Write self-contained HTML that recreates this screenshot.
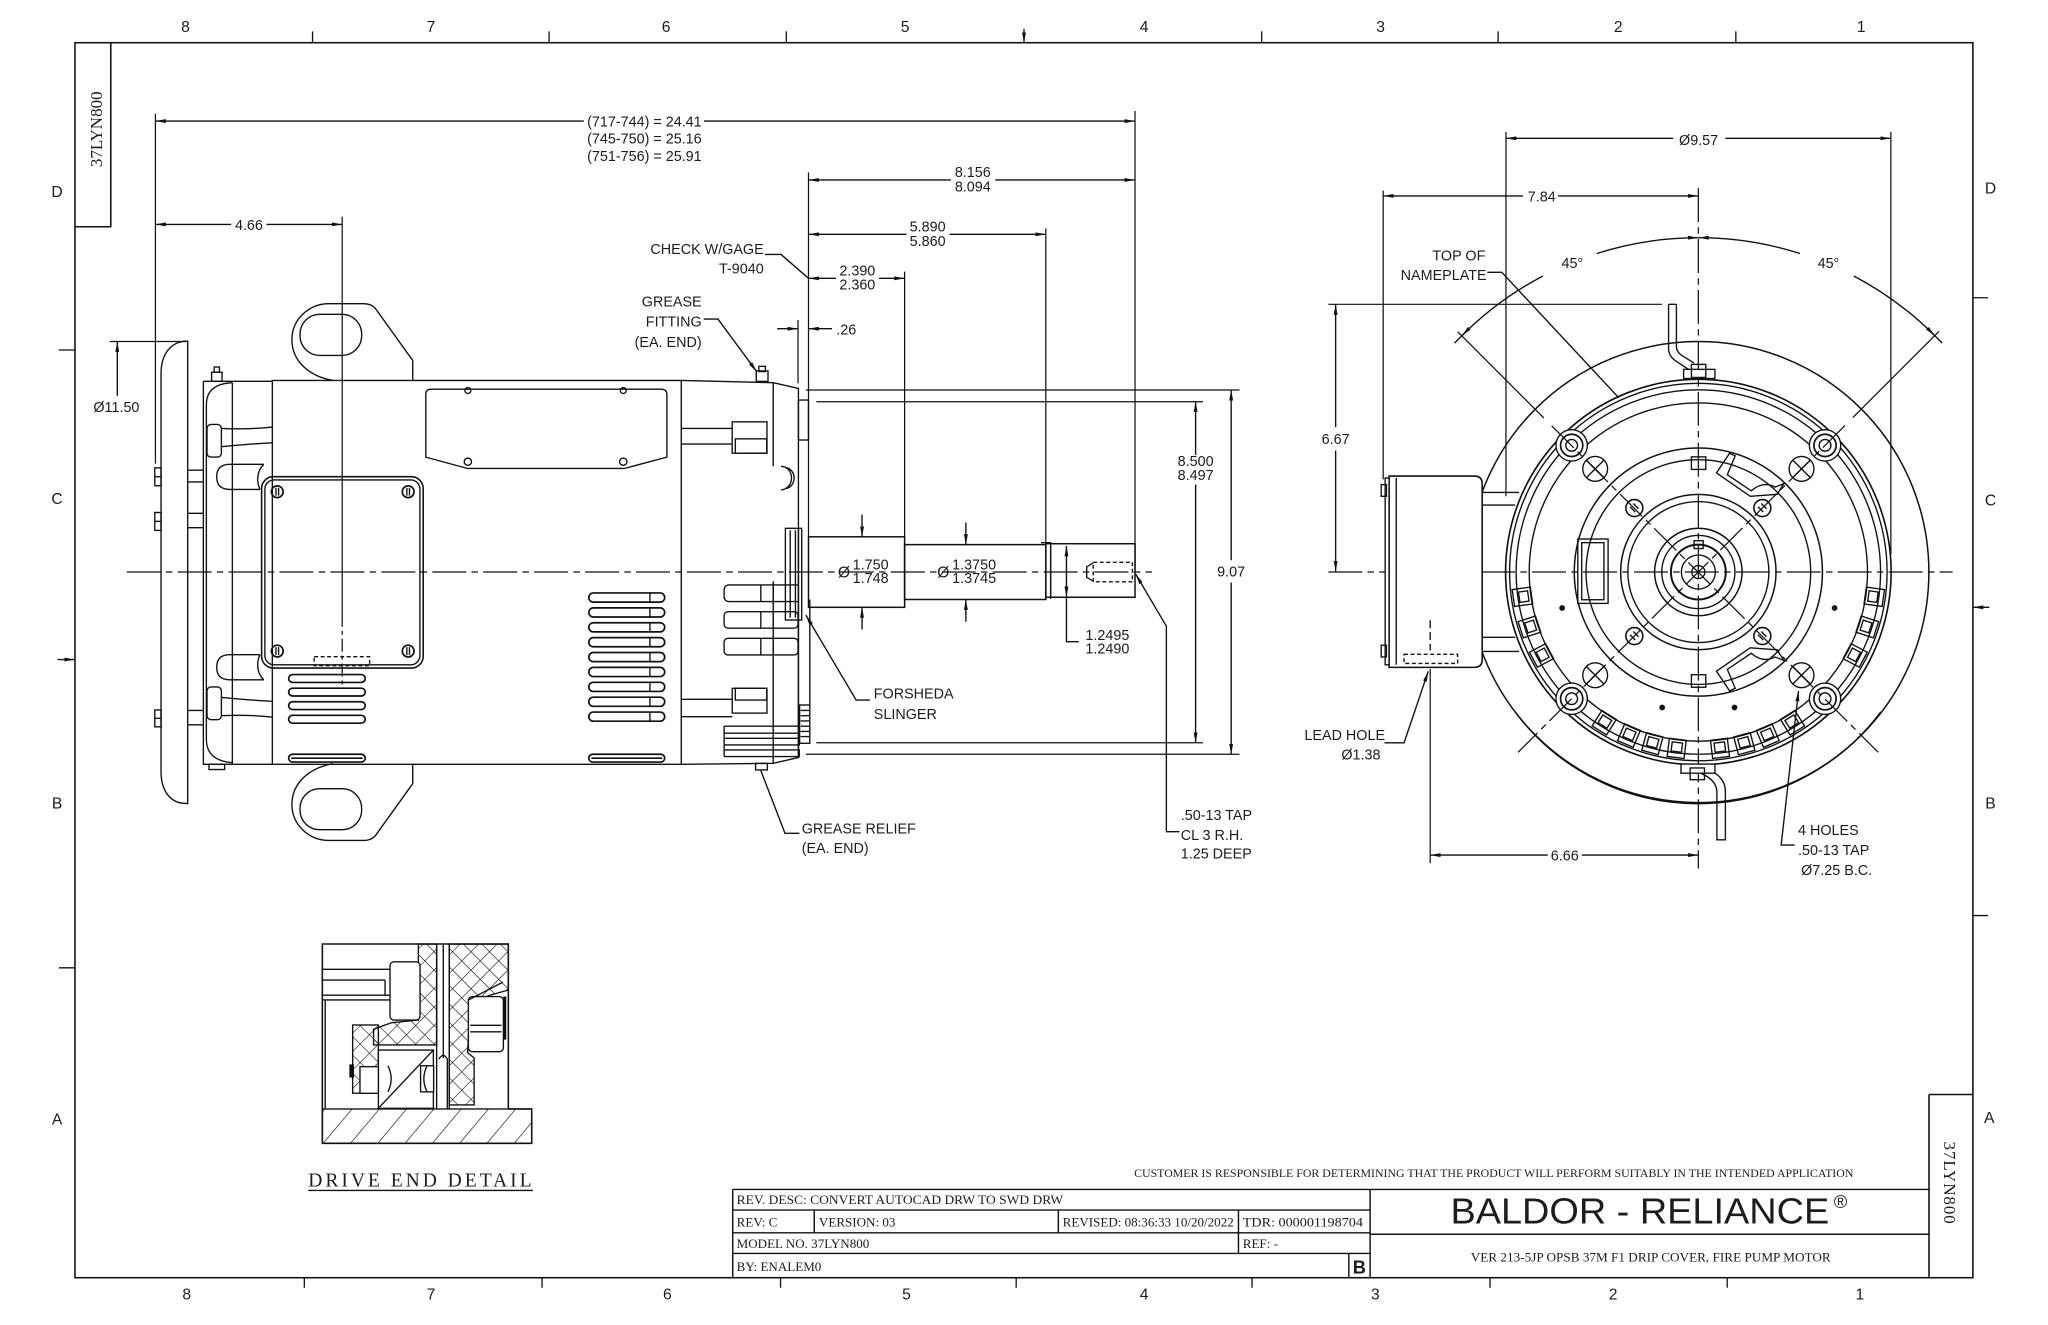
<!DOCTYPE html>
<html><head><meta charset="utf-8">
<style>
html,body{margin:0;padding:0;background:#fff;}
svg{display:block;font-size:11px}
text{font-family:"Liberation Sans",sans-serif;fill:#1c1c1c}
.s{font-family:"Liberation Serif",serif}
.m{text-anchor:middle}
.e{text-anchor:end}
.z{font-size:12px}
</style></head><body>
<svg width="2048" height="1325" viewBox="0 0 1568 1014.5" preserveAspectRatio="none" xmlns="http://www.w3.org/2000/svg">
<defs>
<marker id="ar" viewBox="0 0 10 4" refX="10" refY="2" markerWidth="8" markerHeight="3" markerUnits="userSpaceOnUse" orient="auto-start-reverse" preserveAspectRatio="none"><path d="M0 0L10 2L0 4Z" fill="#111"/></marker>
<pattern id="h1" patternUnits="userSpaceOnUse" width="16" height="16" patternTransform="rotate(40)"><line x1="0" y1="0" x2="0" y2="16" stroke="#111" stroke-width="1"/></pattern>
<pattern id="h2" patternUnits="userSpaceOnUse" width="10" height="10" patternTransform="rotate(45)"><path d="M0 0V10M0 0H10" stroke="#111" stroke-width="0.9" fill="none"/></pattern>
</defs>
<rect x="0" y="0" width="1568" height="1014.5" fill="#fff"/>

<!-- ============ FRAME ============ -->
<g stroke="#111" stroke-width="1.2" fill="none">
<rect x="57.4" y="32.7" width="1453.1" height="945.6"/>
<path d="M84.8 32.7V173.6H57.4"/>
<path d="M1476.9 838V978.3M1476.9 838H1510.5"/>
</g>
<g stroke="#111" stroke-width="1" fill="none">
<path d="M239.3 24V32.7M420.4 24V32.7M602 24V32.7M966 24V32.7M1147 24V32.7M1329 24V32.7"/>
<line x1="784" y1="22" x2="784" y2="32.7" marker-end="url(#ar)"/>
<path d="M233 978.3V986M415 978.3V986M597.6 978.3V986M778 978.3V986M958.6 978.3V986M1140.8 978.3V986M1322.4 978.3V986"/>
<path d="M45 268H57.4M45 741H57.4"/>
<line x1="44" y1="505" x2="57.4" y2="505" marker-end="url(#ar)"/>
<path d="M1510.5 228H1522M1510.5 701H1522"/>
<line x1="1523" y1="465" x2="1510.5" y2="465" marker-end="url(#ar)"/>
</g>
<g>
<text class="m z" x="142" y="24.5">8</text><text class="m z" x="330" y="24.5">7</text><text class="m z" x="510" y="24.5">6</text><text class="m z" x="693" y="24.5">5</text><text class="m z" x="876" y="24.5">4</text><text class="m z" x="1057" y="24.5">3</text><text class="m z" x="1239" y="24.5">2</text><text class="m z" x="1425" y="24.5">1</text>
<text class="m z" x="143" y="995">8</text><text class="m z" x="330" y="995">7</text><text class="m z" x="511" y="995">6</text><text class="m z" x="694" y="995">5</text><text class="m z" x="876" y="995">4</text><text class="m z" x="1053" y="995">3</text><text class="m z" x="1235" y="995">2</text><text class="m z" x="1424" y="995">1</text>
<text class="m z" x="43.7" y="151">D</text><text class="m z" x="43.7" y="386">C</text><text class="m z" x="43.7" y="619">B</text><text class="m z" x="43.7" y="861">A</text>
<text class="m z" x="1524" y="148">D</text><text class="m z" x="1524" y="387">C</text><text class="m z" x="1524" y="619">B</text><text class="m z" x="1523" y="860">A</text>
</g>
<text class="s m" x="0" y="0" font-size="13" textLength="58" transform="translate(78 99) rotate(-90)">37LYN800</text>
<text class="s m" x="0" y="0" font-size="13" textLength="63" transform="translate(1488.5 905.5) rotate(90)">37LYN800</text>

<!-- ============ TITLE BLOCK ============ -->
<g stroke="#111" stroke-width="1.1" fill="none">
<path d="M561 910.7H1476.9M561 910.7V978.3M1049 910.7V978.3M1049 945H1476.9"/>
<path d="M561 926.5H1049M561 943.9H1049M561 959.7H1049"/>
<path d="M623.4 926.5V943.9M810.3 926.5V943.9M948.2 926.5V959.7M1032.7 959.7V978.3"/>
</g>
<text class="s" x="868.3" y="901" font-size="8.6" textLength="550.7" lengthAdjust="spacingAndGlyphs">CUSTOMER IS RESPONSIBLE FOR DETERMINING THAT THE PRODUCT WILL PERFORM SUITABLY IN THE INTENDED APPLICATION</text>
<text class="s" x="564" y="921.8" font-size="10" textLength="250" lengthAdjust="spacingAndGlyphs">REV. DESC: CONVERT AUTOCAD DRW TO SWD DRW</text>
<text class="s" x="564" y="939" font-size="10">REV:  C</text>
<text class="s" x="627" y="939" font-size="10">VERSION:  03</text>
<text class="s" x="813.6" y="939" font-size="10" textLength="131" lengthAdjust="spacingAndGlyphs">REVISED: 08:36:33 10/20/2022</text>
<text class="s" x="951.5" y="939" font-size="10" textLength="92" lengthAdjust="spacingAndGlyphs">TDR: 000001198704</text>
<text class="s" x="564" y="955.5" font-size="10">MODEL NO.  37LYN800</text>
<text class="s" x="951.5" y="955.5" font-size="10">REF:  -</text>
<text class="s" x="564" y="973" font-size="10">BY: ENALEM0</text>
<text class="m" x="1040.8" y="975" font-size="14" font-weight="bold">B</text>
<text x="1110.5" y="936.7" font-size="28" textLength="290" lengthAdjust="spacingAndGlyphs">BALDOR - RELIANCE</text>
<text x="1404" y="925" font-size="14">®</text>
<text class="s" x="1126" y="966" font-size="9.7" textLength="275.6" lengthAdjust="spacingAndGlyphs">VER 213-5JP OPSB 37M F1 DRIP COVER, FIRE PUMP MOTOR</text>

<!-- ============ SIDE VIEW ============ -->
<g stroke="#111" stroke-width="1.05" fill="none">
<line x1="97" y1="438" x2="882" y2="438" stroke-dasharray="26 4 5 4" stroke-width="0.95"/>
<line x1="262" y1="165.9" x2="262" y2="470" stroke-width="0.95"/>
<line x1="262" y1="470" x2="262" y2="525" stroke-dasharray="10 3 3 3" stroke-width="0.95"/>
<path d="M143.7 261.2L140 261.4C130 263 123.3 272 123.3 286L123.3 591C123.3 605 130 614 140 615L143.7 615.3Z"/>
<rect x="118.5" y="358.2" width="4.8" height="13.7"/><line x1="118.5" y1="365" x2="123.3" y2="365"/>
<rect x="118.5" y="392.4" width="4.8" height="13.7"/><line x1="118.5" y1="399.2" x2="123.3" y2="399.2"/>
<rect x="118.5" y="543.6" width="4.8" height="12.9"/><line x1="118.5" y1="550" x2="123.3" y2="550"/>
<path d="M143.7 360H155.7M143.7 369H155.7M143.7 393H155.7M143.7 404H155.7M143.7 544H155.7M143.7 555H155.7"/>
<path d="M155.7 292H208.5M155.7 292V585.2H208.5"/>
<path d="M158 310C158 298 166 293.5 178 293M158 566C158 578 166 583 178 584M158 310V566M177.9 293V585"/>
<rect x="162" y="285" width="8" height="7"/><rect x="164" y="281" width="4" height="4"/>
<rect x="160" y="585.2" width="12" height="4"/>
<g id="rib">
<rect x="158.5" y="325" width="11" height="25" rx="3"/>
<path d="M169.5 328Q190 329 208.5 327M169.5 342Q190 340 208.5 339"/>
<path d="M202 355.5L176 355.5C168 355.5 165.9 360 165.9 365C165.9 370 168 374.7 176 374.7L199 374.7M202 355.5C197 360 196 368 199 374.7"/>
</g>
<use href="#rib" transform="translate(0 876) scale(1 -1)"/>
<rect x="208.5" y="291.3" width="313.1" height="293.9"/>
<g id="lug">
<path d="M316 291.3V276L288 237Q285 232.5 278 232.5H252C236 232.5 223.5 245 223.5 260C223.5 276 236 288 255 291.3"/>
<rect x="229.7" y="240.7" width="47.2" height="31.4" rx="15"/>
</g>
<use href="#lug" transform="translate(0 876) scale(1 -1)"/>
<rect x="200.3" y="365" width="123.7" height="146.5" rx="9" stroke-width="1.2"/>
<rect x="202.8" y="367.5" width="118.7" height="141.5" rx="7"/>
<g id="scr"><circle cx="212.3" cy="376.5" r="4.5" stroke-width="1.3"/><path d="M211.3 373.5V379.5M213.3 373.5V379.5"/></g>
<use href="#scr" transform="translate(100.2 0)"/><use href="#scr" transform="translate(0 122)"/><use href="#scr" transform="translate(100.2 122)"/>
<rect x="240.5" y="502.8" width="42.5" height="6.9" stroke-dasharray="3 2"/>
<path d="M326 302Q326 298 330 298H506Q510.6 298 510.6 302V350L478 358.7H358L326 350Z"/>
<circle cx="358.2" cy="299" r="2.3"/><circle cx="477.2" cy="299" r="2.3"/>
<circle cx="358.2" cy="353.5" r="2.8"/><circle cx="477.2" cy="353.5" r="2.8"/>
<g stroke-width="1.3">
<rect x="450.8" y="454" width="58.1" height="7" rx="3.5"/><rect x="450.8" y="465.4" width="58.1" height="7" rx="3.5"/><rect x="450.8" y="476.8" width="58.1" height="7" rx="3.5"/><rect x="450.8" y="488.2" width="58.1" height="7" rx="3.5"/><rect x="450.8" y="499.6" width="58.1" height="7" rx="3.5"/><rect x="450.8" y="511" width="58.1" height="7" rx="3.5"/><rect x="450.8" y="522.4" width="58.1" height="7" rx="3.5"/><rect x="450.8" y="533.8" width="58.1" height="7" rx="3.5"/><rect x="450.8" y="545.2" width="58.1" height="7" rx="3.5"/>
<rect x="221" y="516.5" width="58.6" height="6" rx="3"/><rect x="221" y="526.9" width="58.6" height="6" rx="3"/><rect x="221" y="537.3" width="58.6" height="6" rx="3"/><rect x="221" y="547.7" width="58.6" height="6" rx="3"/>
<rect x="221" y="577.5" width="58.6" height="6" rx="3"/><line x1="223" y1="580.5" x2="277.6" y2="580.5"/>
<rect x="450.8" y="577.5" width="58.1" height="6" rx="3"/><line x1="452.8" y1="580.5" x2="507" y2="580.5"/>
</g>
<path d="M497.6 454V461M497.6 465.4V472.4M497.6 476.8V483.8M497.6 488.2V495.2M497.6 499.6V506.6M497.6 511V518M497.6 522.4V529.4M497.6 533.8V540.8M497.6 545.2V552.2"/>
<path d="M521.6 291.3L592 293L611.3 297.4V580L592 584.4L521.6 585.2"/>
<rect x="611.3" y="306.3" width="7.7" height="30.6"/>
<path d="M592 293V357M592 445V584"/>
<path d="M521.6 328H560.6M521.6 340H560.6M521.6 535.4H560.6M521.6 548.7H560.6"/>
<rect x="560.6" y="323" width="26.6" height="24"/><rect x="563" y="336" width="24" height="11"/>
<rect x="560.6" y="527" width="26.6" height="19"/><rect x="563" y="527" width="24" height="9"/>
<path d="M598 357A8 9 0 0 1 598 375M601 358A7 8 0 0 1 601 374"/>
<path d="M611.3 404V580M620 459V541"/>
<path d="M558 447.9H611M554.4 451.5V457C554.4 459 556 460.6 558 460.6H611M554.4 451.5C554.4 449.5 556 447.9 558 447.9"/>
<rect x="554.4" y="468.3" width="56.6" height="12.7" rx="3"/>
<rect x="554.4" y="488.7" width="56.6" height="12.8" rx="3"/>
<path d="M582.5 447.9V460.6M592 447.9V460.6M582.5 468.3V481M592 468.3V481M582.5 488.7V501.5M592 488.7V501.5"/>
<path d="M554.4 556H612L612 561.4H554.4M554.4 565.3H612V570.4H554.4M554.4 574.2H612V579.3H554.4M554.4 556V579.3"/>
<rect x="612.2" y="539.8" width="7.8" height="29.3"/>
<path d="M613 544H619.5M613 548H619.5M613 552H619.5M613 556H619.5M613 560H619.5M613 564H619.5"/>
<rect x="601.3" y="404.5" width="12.5" height="70.2"/><path d="M605 406V473M609 406V473"/>
<rect x="579" y="284" width="9" height="8"/><rect x="581" y="280.5" width="5" height="4"/>
<rect x="578.5" y="584.5" width="9" height="5"/>
<rect x="619" y="411" width="73.6" height="54" stroke-width="1.15"/>
<rect x="692.6" y="417" width="108.1" height="42" stroke-width="1.15"/>
<path d="M797 415.5H804.4V458.5" />
<rect x="800.7" y="416.3" width="68.3" height="41" stroke-width="1.15"/>
<line x1="804.4" y1="416.3" x2="804.4" y2="457.3"/>
<rect x="837" y="430.5" width="30" height="15" stroke-dasharray="3 2"/>
<path d="M837 431L832 434V442L837 445"/>
<line x1="119" y1="87" x2="119" y2="355" stroke-width="0.95"/>
<line x1="869" y1="85" x2="869" y2="437" stroke-width="0.95"/>
<line x1="447" y1="92.7" x2="119" y2="92.7" marker-end="url(#ar)"/>
<line x1="539" y1="92.7" x2="869" y2="92.7" marker-end="url(#ar)"/>
<line x1="177" y1="171.8" x2="119" y2="171.8" marker-end="url(#ar)"/>
<line x1="204" y1="171.8" x2="262" y2="171.8" marker-end="url(#ar)"/>
<line x1="84" y1="261.5" x2="143" y2="261.5" stroke-width="0.95"/>
<line x1="89.8" y1="303" x2="89.8" y2="261.5" marker-end="url(#ar)"/>
<line x1="619" y1="132" x2="619" y2="411" stroke-width="0.95"/>
<line x1="800.7" y1="175" x2="800.7" y2="416" stroke-width="0.95"/>
<line x1="692.6" y1="208" x2="692.6" y2="411" stroke-width="0.95"/>
<line x1="728" y1="137.8" x2="619" y2="137.8" marker-end="url(#ar)"/>
<line x1="762" y1="137.8" x2="869" y2="137.8" marker-end="url(#ar)"/>
<line x1="694" y1="179.4" x2="619" y2="179.4" marker-end="url(#ar)"/>
<line x1="727" y1="179.4" x2="800.7" y2="179.4" marker-end="url(#ar)"/>
<line x1="640" y1="213.1" x2="619" y2="213.1" marker-end="url(#ar)"/>
<line x1="673" y1="213.1" x2="692.6" y2="213.1" marker-end="url(#ar)"/>
<line x1="611" y1="245" x2="611" y2="293.5" stroke-width="0.95"/>
<line x1="595" y1="251.7" x2="611" y2="251.7" marker-end="url(#ar)"/>
<line x1="637" y1="251.7" x2="619" y2="251.7" marker-end="url(#ar)"/>
<path d="M585.6 194.8H598L619 213.1"/>
<path d="M538.8 244.3H549.7L579.4 284.6" marker-end="url(#ar)"/>
<path d="M666 536H655.5L617 471" marker-end="url(#ar)"/>
<path d="M612 638H601L582.5 590"/>
<path d="M903 636.8H893V479.4L869.5 439.6" marker-end="url(#ar)"/>
<line x1="617" y1="298.6" x2="949" y2="298.6" stroke-width="0.95"/>
<line x1="617" y1="577.5" x2="949" y2="577.5" stroke-width="0.95"/>
<line x1="625" y1="307.6" x2="921" y2="307.6" stroke-width="0.95"/>
<line x1="625" y1="568.7" x2="921" y2="568.7" stroke-width="0.95"/>
<line x1="915.4" y1="348.4" x2="915.4" y2="307.6" marker-end="url(#ar)"/>
<line x1="915.4" y1="371" x2="915.4" y2="568.7" marker-end="url(#ar)"/>
<line x1="942.6" y1="429" x2="942.6" y2="298.6" marker-end="url(#ar)"/>
<line x1="942.6" y1="446" x2="942.6" y2="577.5" marker-end="url(#ar)"/>
<line x1="660" y1="394" x2="660" y2="411" marker-end="url(#ar)"/>
<line x1="660" y1="482" x2="660" y2="465" marker-end="url(#ar)"/>
<line x1="739.5" y1="400" x2="739.5" y2="417" marker-end="url(#ar)"/>
<line x1="739.5" y1="476" x2="739.5" y2="459" marker-end="url(#ar)"/>
<line x1="816.5" y1="418" x2="816.5" y2="457" marker-start="url(#ar)" marker-end="url(#ar)"/>
<path d="M816.5 457V491.3H826"/>
</g>
<text x="449.5" y="97">(717-744) = 24.41</text>
<text x="449.5" y="110">(745-750) = 25.16</text>
<text x="449.5" y="123.3">(751-756) = 25.91</text>
<text class="m" x="190.6" y="176">4.66</text>
<text x="71.5" y="315.5">Ø11.50</text>
<text class="m" x="744.8" y="135.5">8.156</text><text class="m" x="744.8" y="146.8">8.094</text>
<text class="m" x="710.2" y="177.2">5.890</text><text class="m" x="710.2" y="188.3">5.860</text>
<text class="m" x="656.4" y="211.1">2.390</text><text class="m" x="656.4" y="221.5">2.360</text>
<text x="640.3" y="256">.26</text>
<text class="e" x="584.7" y="194.5">CHECK W/GAGE</text>
<text class="e" x="584.7" y="209.3">T-9040</text>
<text class="e" x="537.2" y="234.8">GREASE</text>
<text class="e" x="537.2" y="250">FITTING</text>
<text class="e" x="537.2" y="265.5">(EA. END)</text>
<text class="m" x="915.4" y="356.8">8.500</text><text class="m" x="915.4" y="367.5">8.497</text>
<text class="m" x="942.6" y="441.5">9.07</text>
<text x="641.5" y="442" font-size="12">Ø</text>
<text x="652.8" y="436">1.750</text><text x="652.8" y="446.5">1.748</text>
<text x="717.5" y="442" font-size="12">Ø</text>
<text x="729" y="436">1.3750</text><text x="729" y="446.5">1.3745</text>
<text x="831" y="490">1.2495</text><text x="831" y="500.3">1.2490</text>
<text x="669" y="535">FORSHEDA</text><text x="669" y="550.5">SLINGER</text>
<text x="613.8" y="638">GREASE RELIEF</text><text x="613.8" y="653.3">(EA. END)</text>
<text x="904" y="627.8">.50-13 TAP</text><text x="904" y="643">CL 3 R.H.</text><text x="904" y="657.2">1.25 DEEP</text>

<!-- ============ END VIEW ============ -->
<g stroke="#111" stroke-width="1.05" fill="none">
<circle cx="1300.3" cy="438" r="176.5" stroke-width="1.15"/>
<path d="M1160 545A174.5 174.5 0 0 0 1440 545"/>
<circle cx="1300.3" cy="438" r="147.6" stroke-width="1.25"/>
<circle cx="1300.3" cy="438" r="144.5"/>
<circle cx="1300.3" cy="438" r="139.5"/>
<circle cx="1300.3" cy="438" r="129.5"/>
<circle cx="1300.3" cy="438" r="95" stroke-width="1.15"/>
<circle cx="1300.3" cy="438" r="86"/>
<circle cx="1300.3" cy="438" r="59.5" stroke-width="1.15"/>
<circle cx="1300.3" cy="438" r="54"/>
<circle cx="1300.3" cy="438" r="33.5" stroke-width="1.15"/>
<circle cx="1300.3" cy="438" r="28"/>
<circle cx="1300.3" cy="438" r="21" stroke-width="1.5"/>
<circle cx="1300.3" cy="438" r="13"/>
<circle cx="1300.3" cy="438" r="5"/>
<rect x="1297" y="414" width="7" height="6"/>
<rect x="1295" y="349.8" width="11" height="9.6"/>
<rect x="1295" y="516.6" width="11" height="9.6"/>
<g transform="translate(1300.3 438)">
<g transform="rotate(8)"><rect x="129" y="-6.5" width="14" height="13"/><rect x="131.5" y="-4" width="7" height="8"/></g>
<g transform="rotate(18)"><rect x="129" y="-6.5" width="14" height="13"/><rect x="131.5" y="-4" width="7" height="8"/></g>
<g transform="rotate(28)"><rect x="129" y="-6.5" width="14" height="13"/><rect x="131.5" y="-4" width="7" height="8"/></g>
<g transform="rotate(58)"><rect x="129" y="-6.5" width="14" height="13"/><rect x="131.5" y="-4" width="7" height="8"/></g>
<g transform="rotate(67)"><rect x="129" y="-6.5" width="14" height="13"/><rect x="131.5" y="-4" width="7" height="8"/></g>
<g transform="rotate(75)"><rect x="129" y="-6.5" width="14" height="13"/><rect x="131.5" y="-4" width="7" height="8"/></g>
<g transform="rotate(83)"><rect x="129" y="-6.5" width="14" height="13"/><rect x="131.5" y="-4" width="7" height="8"/></g>
<g transform="rotate(97)"><rect x="129" y="-6.5" width="14" height="13"/><rect x="131.5" y="-4" width="7" height="8"/></g>
<g transform="rotate(105)"><rect x="129" y="-6.5" width="14" height="13"/><rect x="131.5" y="-4" width="7" height="8"/></g>
<g transform="rotate(113)"><rect x="129" y="-6.5" width="14" height="13"/><rect x="131.5" y="-4" width="7" height="8"/></g>
<g transform="rotate(122)"><rect x="129" y="-6.5" width="14" height="13"/><rect x="131.5" y="-4" width="7" height="8"/></g>
<g transform="rotate(152)"><rect x="129" y="-6.5" width="14" height="13"/><rect x="131.5" y="-4" width="7" height="8"/></g>
<g transform="rotate(162)"><rect x="129" y="-6.5" width="14" height="13"/><rect x="131.5" y="-4" width="7" height="8"/></g>
<g transform="rotate(172)"><rect x="129" y="-6.5" width="14" height="13"/><rect x="131.5" y="-4" width="7" height="8"/></g>
</g>
<g id="boss"><circle cx="1203.3" cy="341" r="12" fill="#fff"/><circle cx="1203.3" cy="341" r="8.5" stroke-width="1.3"/><circle cx="1203.3" cy="341" r="4.5"/></g>
<use href="#boss" transform="translate(194 0)"/><use href="#boss" transform="translate(0 194)"/><use href="#boss" transform="translate(194 194)"/>
<g id="xh"><circle cx="1221.3" cy="359" r="9.5"/><path d="M1214.6 352.3L1228 365.7M1228 352.3L1214.6 365.7"/></g>
<use href="#xh" transform="translate(158 0)"/><use href="#xh" transform="translate(0 158)"/><use href="#xh" transform="translate(158 158)"/>
<g id="ss"><circle cx="1251.3" cy="389" r="6.5" stroke-width="1.2"/><path d="M1248 388L1252 392M1250.5 385.5L1254.5 389.5"/></g>
<use href="#ss" transform="translate(98 0)"/><use href="#ss" transform="translate(0 98)"/><use href="#ss" transform="translate(98 98)"/>
<g fill="#111" stroke="none"><circle cx="1196" cy="465.5" r="2.2"/><circle cx="1404.6" cy="465.5" r="2.2"/><circle cx="1272.6" cy="541.7" r="2.2"/><circle cx="1328" cy="541.7" r="2.2"/></g>
<rect x="1208" y="412.7" width="23.2" height="49.3"/><rect x="1211" y="415.5" width="17" height="43.7"/>
<g id="clip"><path d="M1314.2 362.1L1324.2 347L1328.5 349L1322.5 363.5L1340.8 375.8Q1350 368 1359 373L1365.7 370.3L1360.7 378.5L1340 380L1314.2 362.1Z"/></g>
<use href="#clip" transform="translate(0 876) scale(1 -1)"/>
<line x1="1300.3" y1="144" x2="1300.3" y2="665" stroke-dasharray="26 4 5 4" stroke-width="0.95"/>
<line x1="1017" y1="438" x2="1495" y2="438" stroke-dasharray="26 4 5 4" stroke-width="0.95"/>
<line x1="1116" y1="254" x2="1182" y2="320" stroke-width="0.95"/>
<line x1="1188" y1="326" x2="1438" y2="576" stroke-dasharray="24 4 5 4" stroke-width="0.95"/>
<line x1="1484.6" y1="253.7" x2="1418.6" y2="319.7" stroke-width="0.95"/>
<line x1="1412.6" y1="325.7" x2="1162.3" y2="576" stroke-dasharray="24 4 5 4" stroke-width="0.95"/>
<path d="M1113.6 262.7L1125 251.3M1487 262.7L1475.6 251.3"/>
<path d="M1300.3 182A256 256 0 0 0 1222.5 194.1" marker-start="url(#ar)"/>
<path d="M1181.3 211.3A256 256 0 0 0 1119.3 257" marker-end="url(#ar)"/>
<path d="M1300.3 182A256 256 0 0 1 1378.1 194.1" marker-start="url(#ar)"/>
<path d="M1419.3 211.3A256 256 0 0 1 1481.3 257" marker-end="url(#ar)"/>
<path d="M1277.5 233V267Q1277.5 273 1284 277L1293 283M1283.5 233V265Q1283.5 270 1289 273L1297 278M1277.5 233H1283.5"/>
<rect x="1289" y="282.8" width="24" height="7" fill="#fff"/><rect x="1295" y="279" width="11" height="10"/>
<path d="M1302 592Q1314 597 1314.5 606V643H1321V606Q1321 595 1308 589"/>
<rect x="1287" y="585" width="26" height="7" fill="#fff"/><rect x="1294" y="588" width="11" height="9"/>
<path d="M1063.5 364.5H1128.8Q1134.8 364.5 1134.8 370.5V505Q1134.8 511 1128.8 511H1063.5Z" fill="#fff" stroke-width="1.2"/>
<rect x="1060.5" y="366" width="3" height="143" fill="#fff"/>
<line x1="1069" y1="366" x2="1069" y2="509"/>
<rect x="1057.5" y="371" width="4" height="9"/><rect x="1057.5" y="494" width="4" height="9"/>
<path d="M1134.8 377H1163M1134.8 386.7H1160M1134.8 488H1160M1134.8 498.8H1163"/>
<rect x="1075" y="501" width="41" height="7" stroke-dasharray="3 2"/>
<line x1="1095" y1="475" x2="1095" y2="498" stroke-dasharray="6 3"/>
<line x1="1153" y1="101" x2="1153" y2="380" stroke-width="0.95"/>
<line x1="1447.7" y1="101" x2="1447.7" y2="424" stroke-width="0.95"/>
<line x1="1281" y1="105.9" x2="1153" y2="105.9" marker-end="url(#ar)"/>
<line x1="1321" y1="105.9" x2="1447.7" y2="105.9" marker-end="url(#ar)"/>
<line x1="1059" y1="146" x2="1059" y2="367" stroke-width="0.95"/>
<line x1="1166" y1="150" x2="1059" y2="150" marker-end="url(#ar)"/>
<line x1="1193" y1="150" x2="1300.3" y2="150" marker-end="url(#ar)"/>
<line x1="1017" y1="233" x2="1272.6" y2="233" stroke-width="0.95"/>
<line x1="1022.6" y1="327" x2="1022.6" y2="233" marker-end="url(#ar)"/>
<line x1="1022.6" y1="345" x2="1022.6" y2="437.5" marker-end="url(#ar)"/>
<line x1="1095" y1="512" x2="1095" y2="661" stroke-width="0.95"/>
<line x1="1185" y1="654.7" x2="1095" y2="654.7" marker-end="url(#ar)"/>
<line x1="1211" y1="654.7" x2="1300.3" y2="654.7" marker-end="url(#ar)"/>
<path d="M1060 568.7H1075L1093.5 514" marker-end="url(#ar)"/>
<path d="M1374 647H1363.7L1377 529" marker-end="url(#ar)"/>
<path d="M1138.7 208.5H1149.8L1239.4 304.6"/>
</g>
<text class="m" x="1300.5" y="111">Ø9.57</text>
<text x="1169.7" y="154.4">7.84</text>
<text x="1195.5" y="205.3">45°</text>
<text x="1391.6" y="205.3">45°</text>
<text x="1096.7" y="199.5">TOP OF</text>
<text x="1072.4" y="214.4">NAMEPLATE</text>
<text class="m" x="1022.6" y="340">6.67</text>
<text x="998.7" y="566.6">LEAD HOLE</text>
<text x="1027" y="581.4">Ø1.38</text>
<text class="m" x="1198" y="659">6.66</text>
<text x="1376.6" y="639.4">4 HOLES</text>
<text x="1376.6" y="654.7">.50-13 TAP</text>
<text x="1379" y="670">Ø7.25 B.C.</text>

<!-- ============ DRIVE END DETAIL ============ -->
<g stroke="#111" stroke-width="1.05" fill="none">
<rect x="246.8" y="849.1" width="160.3" height="26.3" fill="url(#h1)"/>
<path d="M320.3 722.8H334.3V800.1H286V788L300 783L320.3 781Z" fill="url(#h2)"/>
<path d="M344 722.8H389.2V758L375 762L360 768L358 806L363 810V846H344Z" fill="url(#h2)"/>
<rect x="270" y="784.8" width="19.7" height="52.2" fill="url(#h2)"/>
<rect x="289.7" y="804" width="42.1" height="44.6" fill="#fff"/>
<line x1="289.7" y1="848.6" x2="331.8" y2="804"/>
<rect x="275.6" y="816.7" width="14.1" height="20.4" fill="#fff"/>
<rect x="322" y="816" width="10" height="20" fill="#fff"/>
<path d="M297 816Q302 826 297 836M327 816Q322 826 327 836"/>
<rect x="358.6" y="763" width="26.8" height="42.2" rx="3" fill="#fff"/>
<path d="M360 785H384M360 790H384"/>
<path d="M386.5 763V796" stroke-width="2.2"/>
<path d="M358 766L385 752" />
<rect x="298.6" y="736.4" width="23" height="44.6" rx="3" fill="#fff"/>
<path d="M246.8 742.2H298.6M246.8 750.4H294.8M246.8 762H298.6M246.8 765.6H298.6M294.8 750.4V762"/>
<path d="M249 765.6V849"/>
<path d="M334.3 722.8V849.1M339.4 722.8V810M344 722.8V849.1"/>
<path d="M336 811Q339.4 805 342.5 811V849" />
<rect x="268" y="815.5" width="2.5" height="9" fill="#111"/>
<path d="M246.8 722.8H389.2V849.1H407.1V875.4H246.8Z" stroke-width="1.2"/>
<line x1="236" y1="911.5" x2="408" y2="911.5"/>
</g>
<text class="s" x="236" y="908.5" font-size="15" textLength="171" lengthAdjust="spacing">DRIVE  END  DETAIL</text>
</svg>
</body></html>
